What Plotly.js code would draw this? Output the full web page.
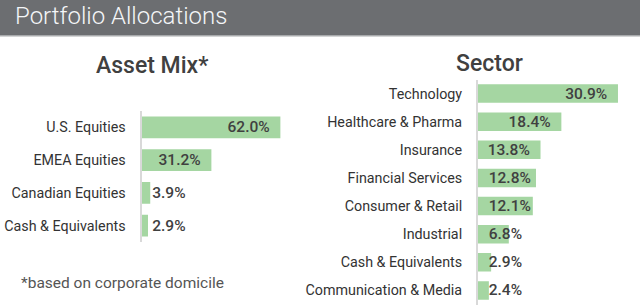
<!DOCTYPE html>
<html>
<head>
<meta charset="utf-8">
<script src="https://cdn.plot.ly/plotly-3.0.1.min.js"></script>
<style>
  html, body { margin: 0; padding: 0; background: #ffffff; }
  #chart { width: 640px; height: 308px; }
</style>
</head>
<body>
<div id="chart"></div>
<script>
// Asset mix (based on corporate domicile)
const assetCategories = ['U.S. Equities', 'EMEA Equities', 'Canadian Equities', 'Cash & Equivalents'];
const assetValues = [62.0, 31.2, 3.9, 2.9];

// Sector breakdown
const sectorCategories = ['Technology', 'Healthcare & Pharma', 'Insurance', 'Financial Services',
  'Consumer & Retail', 'Industrial', 'Cash & Equivalents', 'Communication & Media'];
const sectorValues = [30.9, 18.4, 13.8, 12.8, 12.1, 6.8, 2.9, 2.4];

// Label placement: 'end' = right-aligned inside the bar tip, 'base' = left-aligned from the axis
const assetLabelPlacement = ['end', 'end', 'base', 'base'];
const sectorLabelPlacement = ['end', 'end', 'end', 'base', 'base', 'base', 'base', 'base'];

const FONT = 'Roboto, "Open Sans", Arial, sans-serif';
const BAR_GREEN = '#a5d6a2';
const LABEL_FONT = { family: FONT, size: 15.5, color: '#404040', weight: 500 };
const NBSP2 = '\u00a0\u00a0';

function barTraces(cats, vals, placement, xa, ya) {
  const common = {
    type: 'bar',
    orientation: 'h',
    x: vals,
    y: cats,
    xaxis: xa,
    yaxis: ya,
    textposition: 'inside',
    textangle: 0,
    constraintext: 'none',
    textfont: LABEL_FONT,
    insidetextfont: LABEL_FONT,
    cliponaxis: false,
    hoverinfo: 'skip'
  };
  // visible bars, carrying the labels that sit at the bar tip
  const bars = Object.assign({}, common, {
    marker: { color: BAR_GREEN, line: { width: 0 } },
    texttemplate: '%{x:.1f}%' + NBSP2,
    textposition: placement.map(p => (p === 'end' ? 'inside' : 'none')),
    insidetextanchor: 'end'
  });
  // transparent overlay carrying the labels that start from the axis
  const baseLabels = Object.assign({}, common, {
    marker: { color: 'rgba(0,0,0,0)', line: { width: 0 } },
    texttemplate: NBSP2 + '%{x:.1f}%',
    textposition: placement.map(p => (p === 'base' ? 'inside' : 'none')),
    insidetextanchor: 'start'
  });
  return [bars, baseLabels];
}

const data = [
  ...barTraces(assetCategories, assetValues, assetLabelPlacement, 'x', 'y'),
  ...barTraces(sectorCategories, sectorValues, sectorLabelPlacement, 'x2', 'y2')
];

const H = 308, W = 640;
const catAxis = (domain, anchor, cats) => ({
  domain: domain,
  anchor: anchor,
  type: 'category',
  categoryorder: 'array',
  categoryarray: cats,
  autorange: 'reversed',
  showgrid: false,
  zeroline: false,
  showline: true,
  linecolor: '#d9d9d9',
  linewidth: 2,
  ticks: '',
  ticklabelstandoff: 11,
  tickfont: { family: FONT, size: 14.3, color: '#333333' },
  fixedrange: true
});
const valAxis = (domain, anchor, max) => ({
  domain: domain,
  anchor: anchor,
  range: [0, max],
  visible: false,
  showgrid: false,
  zeroline: false,
  fixedrange: true
});

const layout = {
  width: W,
  height: H,
  margin: { l: 0, r: 0, t: 0, b: 0 },
  paper_bgcolor: '#ffffff',
  plot_bgcolor: 'rgba(0,0,0,0)',
  showlegend: false,
  barmode: 'overlay',
  bargap: 0.34,
  title: {
    text: 'Portfolio Allocations',
    x: 15 / W,
    xanchor: 'left',
    xref: 'paper',
    yref: 'container',
    y: 1 - 16 / H,
    yanchor: 'middle',
    font: { family: FONT, size: 24, color: '#f4f6f8', weight: 300 }
  },
  xaxis: valAxis([141.5 / W, 300 / W], 'y', 70.76),
  yaxis: catAxis([(H - 242) / H, (H - 111) / H], 'x', assetCategories),
  xaxis2: valAxis([478 / W, 1], 'y2', 35.76),
  yaxis2: catAxis([(H - 304.5) / H, (H - 79.5) / H], 'x2', sectorCategories),
  shapes: [
    { type: 'rect', xref: 'paper', yref: 'paper', x0: 0, x1: 1, y0: 1 - 35 / H, y1: 1,
      fillcolor: '#6c6e71', line: { width: 0 }, layer: 'below' },
    { type: 'rect', xref: 'paper', yref: 'paper', x0: 0, x1: 1, y0: 1 - 36.5 / H, y1: 1 - 35 / H,
      fillcolor: '#a8aaac', line: { width: 0 }, layer: 'below' }
  ],
  annotations: [
    { text: 'Asset Mix*', xref: 'paper', yref: 'paper', x: 152 / W, y: 1 - 65 / H,
      xanchor: 'center', yanchor: 'middle', showarrow: false,
      font: { family: FONT, size: 23, color: '#404040', weight: 500 } },
    { text: 'Sector', xref: 'paper', yref: 'paper', x: 489 / W, y: 1 - 63 / H,
      xanchor: 'center', yanchor: 'middle', showarrow: false,
      font: { family: FONT, size: 23, color: '#404040', weight: 500 } },
    { text: '*based on corporate domicile', xref: 'paper', yref: 'paper', x: 19 / W, y: 1 - 283 / H,
      xanchor: 'left', yanchor: 'middle', showarrow: false,
      font: { family: FONT, size: 15.5, color: '#555555' } }
  ]
};

Plotly.newPlot('chart', data, layout, { displayModeBar: false, staticPlot: true });
</script>
</body>
</html>
